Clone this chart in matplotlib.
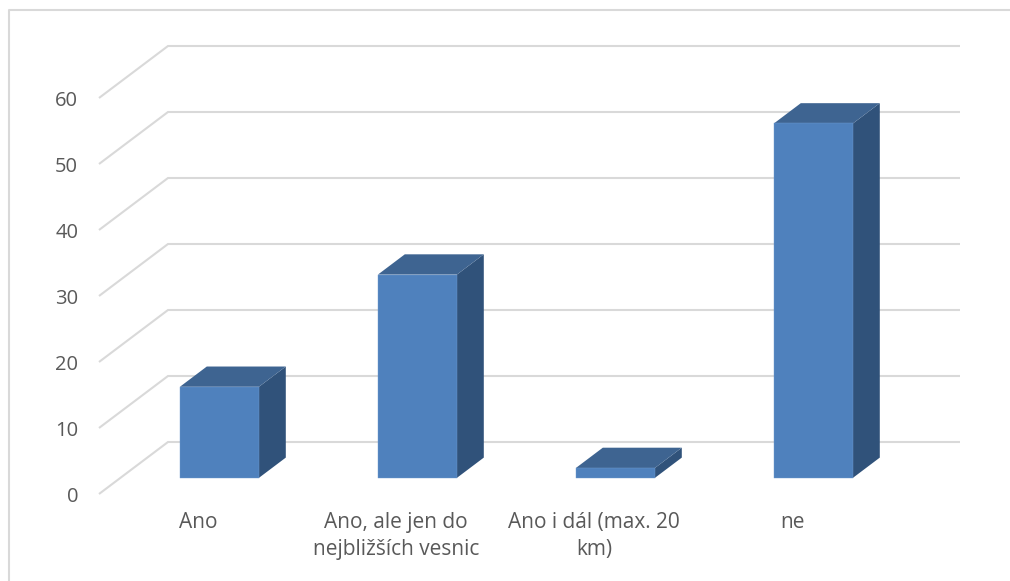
import matplotlib
matplotlib.use('Agg')
import matplotlib.pyplot as plt
from matplotlib.lines import Line2D
from matplotlib.patches import Polygon

plt.rcParams['font.family'] = ['Open Sans', 'DejaVu Sans']

categories = ['Ano', 'Ano, ale jen do\nnejbližších vesnic', 'Ano i dál (max. 20\nkm)', 'ne']
values = [13.8, 30.8, 1.5, 53.7]
y_ticks = [0, 10, 20, 30, 40, 50, 60]

W, H = 1010, 581
grid_col = '#D9D9D9'
text_col = '#595959'
front_col = '#4F81BD'
top_col = '#3E6491'
side_col = '#30527A'

# 3d look: depth of the floor in data units
depth_x = 69 / 198
depth_y = 52 / 6.6
bar_w = 79 / 198
d0, d1 = 0.31, 0.70


def shift(x, y, d):
    return x + depth_x * d, y + depth_y * d


fig = plt.figure(figsize=(W / 100, H / 100), dpi=100)
ax = fig.add_axes([99 / W, 1 - 494 / H, 792 / W, 396 / H])
ax.set_xlim(-0.5, 3.5)
ax.set_ylim(0, 60)
for s in ax.spines.values():
    s.set_visible(False)

# walls
for t in y_ticks:
    xa, ya = shift(-0.5, t, 0)
    xb, yb = shift(-0.5, t, 1)
    xc, yc = shift(3.5, t, 1)
    ax.plot([xa, xb, xc], [ya, yb, yc], color=grid_col, lw=1.5, clip_on=False,
            zorder=1, solid_joinstyle='miter', solid_capstyle='butt')

# bars
for i, v in enumerate(values):
    l = i - bar_w / 2
    r = i + bar_w / 2
    front = [shift(l, 0, d0), shift(r, 0, d0), shift(r, v, d0), shift(l, v, d0)]
    top = [shift(l, v, d0), shift(r, v, d0), shift(r, v, d1), shift(l, v, d1)]
    side = [shift(r, 0, d0), shift(r, 0, d1), shift(r, v, d1), shift(r, v, d0)]
    ax.add_patch(Polygon(side, closed=True, fc=side_col, ec='none', clip_on=False, zorder=3))
    ax.add_patch(Polygon(top, closed=True, fc=top_col, ec='none', clip_on=False, zorder=3))
    ax.add_patch(Polygon(front, closed=True, fc=front_col, ec='#6F9AD0', lw=0.3, clip_on=False, zorder=4))

ax.set_yticks(y_ticks)
ax.set_xticks(range(len(categories)))
ax.set_xticklabels(categories, linespacing=1.4)
ax.tick_params(axis='y', length=0, pad=15, labelsize=14.5, labelcolor=text_col)
ax.tick_params(axis='x', length=0, pad=13, labelsize=15, labelcolor=text_col)

# chart frame, no bottom edge
fig.add_artist(Line2D([9 / W, 9 / W, 1], [0, 1 - 10 / H, 1 - 10 / H], color=grid_col, lw=1.5))

fig.savefig('out.png', dpi=100)
